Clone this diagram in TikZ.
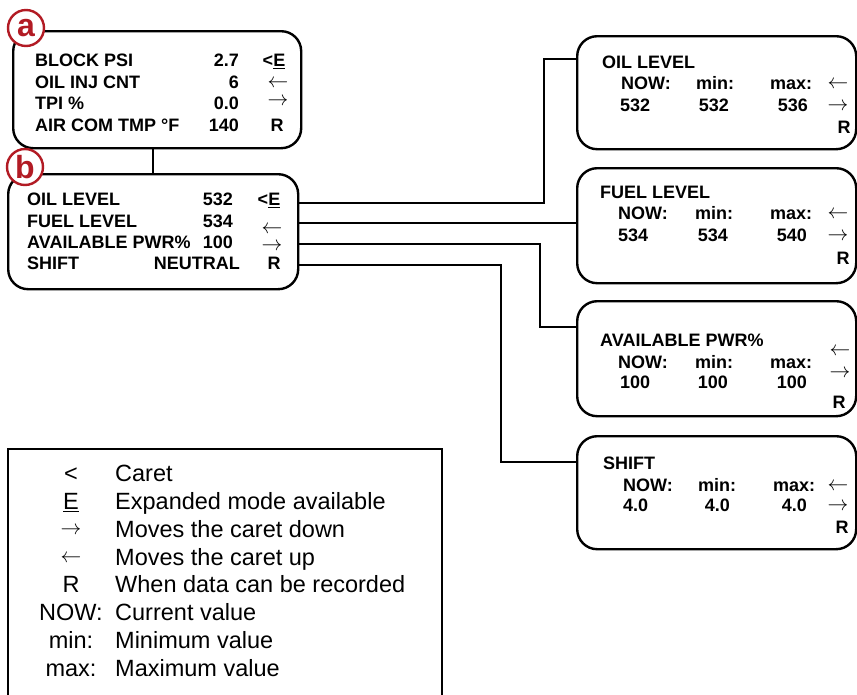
\documentclass[tikz,border=0pt]{standalone}
\usepackage{fontspec}
\setmainfont{Liberation Sans}
\definecolor{badge}{RGB}{178,27,36}
\begin{document}
\begin{tikzpicture}[x=1pt,y=-1pt,
  panel/.style={draw, line width=2.4pt, rounded corners=20pt, inner sep=0, anchor=north west, fill=white},
  conn/.style={line width=2pt},
  lbl/.style={font=\bfseries\fontsize{18}{18}\selectfont, inner sep=0, anchor=base west},
  lblr/.style={lbl, anchor=base east},
  lblc/.style={lbl, anchor=base},
  arr/.style={font=\fontsize{21}{21}\selectfont, inner sep=0, anchor=base},
  leg/.style={font=\fontsize{23.5}{23.5}\selectfont, inner sep=0, anchor=base west},
  legc/.style={leg, anchor=base},
  badgestyle/.style={circle, draw=badge, fill=white, line width=2.4pt, minimum size=36pt, inner sep=0, text=badge, font=\bfseries\fontsize{32}{32}\selectfont}
]
\clip (0,0) rectangle (857,694);

% ---------- panels ----------
\node[panel, minimum width=288pt, minimum height=117pt] (pa) at (12,30) {};
\node[panel, minimum width=290pt, minimum height=115pt] (pb) at (7,173) {};
\node[panel, minimum width=279pt, minimum height=113pt] (oil) at (576,35) {};
\node[panel, minimum width=279pt, minimum height=115pt] (fuel) at (576,167) {};
\node[panel, minimum width=279pt, minimum height=115pt] (avail) at (576,300) {};
\node[panel, minimum width=279pt, minimum height=113pt] (shift) at (576,435) {};

% ---------- connectors ----------
\coordinate (abx) at (153,0);
\draw[conn] (pa.south -| abx) -- (pb.north -| abx);
\draw[conn] (pb.east |- 0,203) -| (544,59) -- (oil.west |- 0,59);
\draw[conn] (pb.east |- 0,223) -- (fuel.west |- 0,223);
\draw[conn] (pb.east |- 0,244) -| (540,327) -- (avail.west |- 0,327);
\draw[conn] (pb.east |- 0,265) -| (501,462) -- (shift.west |- 0,462);

% ---------- badges ----------
\node[badgestyle] (ba) at (26,28) {a};
\node[badgestyle] (bb) at (25,167) {b};

% ---------- panel a text ----------
\node[lbl] (a1) at (35,66.5) {BLOCK PSI};
\node[lbl] (a2) at (35,88.5) {OIL INJ CNT};
\node[lbl] (a3) at (35,109.5) {TPI \%};
\node[lbl] (a4) at (35,131.5) {AIR COM TMP °F};
\node[lblr] (av1) at (239,66.5) {2.7};
\node[lblr] (av2) at (239,88.5) {6};
\node[lblr] (av3) at (239,109.5) {0.0};
\node[lblr] (av4) at (239,131.5) {140};
\node[lblc] (as1) at (274,66.5) {<\underline{E}};
\node[arr] (as2) at (278,87.3) {$\leftarrow$};
\node[arr] (as3) at (278,105.3) {$\rightarrow$};
\node[lblc] (as4) at (277,131.5) {R};

% ---------- panel b text ----------
\node[lbl] (b1) at (27,205.5) {OIL LEVEL};
\node[lbl] (b2) at (27,227.5) {FUEL LEVEL};
\node[lbl] (b3) at (27,248.5) {AVAILABLE PWR\%};
\node[lbl] (b4) at (27,269.5) {SHIFT};
\node[lblr] (bv1) at (233,205.5) {532};
\node[lblr] (bv2) at (233,227.5) {534};
\node[lblr] (bv3) at (233,248.5) {100};
\node[lblr] (bv4) at (240,269.5) {NEUTRAL};
\node[lblc] (bs1) at (269,205.5) {<\underline{E}};
\node[arr] (bs2) at (272,233.3) {$\leftarrow$};
\node[arr] (bs3) at (272,250.3) {$\rightarrow$};
\node[lblc] (bs4) at (274,269.5) {R};

% ---------- oil level ----------
\node[lbl] (o0) at (602,68.5) {OIL LEVEL};
\node[lbl] (o1) at (621,89.5) {NOW:};
\node[lbl] (o2) at (696,89.5) {min:};
\node[lbl] (o3) at (770,89.5) {max:};
\node[arr] (o4) at (838,88.3) {$\leftarrow$};
\node[lbl] (o5) at (620,111.5) {532};
\node[lblr] (o6) at (729,111.5) {532};
\node[lblr] (o7) at (808,111.5) {536};
\node[arr] (o8) at (838,110.3) {$\rightarrow$};
\node[lblc] (o9) at (844,133.5) {R};

% ---------- fuel level ----------
\node[lbl] (f0) at (600,198.5) {FUEL LEVEL};
\node[lbl] (f1) at (618,219.5) {NOW:};
\node[lbl] (f2) at (695,219.5) {min:};
\node[lbl] (f3) at (770,219.5) {max:};
\node[arr] (f4) at (838,218.3) {$\leftarrow$};
\node[lbl] (f5) at (618,241.5) {534};
\node[lblr] (f6) at (728,241.5) {534};
\node[lblr] (f7) at (807,241.5) {540};
\node[arr] (f8) at (838,240.3) {$\rightarrow$};
\node[lblc] (f9) at (843,264.5) {R};

% ---------- available pwr ----------
\node[lbl] (p0) at (600,346.5) {AVAILABLE PWR\%};
\node[lbl] (p1) at (618,368.5) {NOW:};
\node[lbl] (p2) at (695,368.5) {min:};
\node[lbl] (p3) at (770,368.5) {max:};
\node[arr] (p4) at (840,355.3) {$\leftarrow$};
\node[lbl] (p5) at (620,388.5) {100};
\node[lblr] (p6) at (728,388.5) {100};
\node[lblr] (p7) at (807,388.5) {100};
\node[arr] (p8) at (840,377.3) {$\rightarrow$};
\node[lblc] (p9) at (839,408.5) {R};

% ---------- shift ----------
\node[lbl] (s0) at (603,469.5) {SHIFT};
\node[lbl] (s1) at (623,491.5) {NOW:};
\node[lbl] (s2) at (698,491.5) {min:};
\node[lbl] (s3) at (773,491.5) {max:};
\node[arr] (s4) at (838,490.3) {$\leftarrow$};
\node[lbl] (s5) at (623,511.5) {4.0};
\node[lblr] (s6) at (730,511.5) {4.0};
\node[lblr] (s7) at (807,511.5) {4.0};
\node[arr] (s8) at (838,510.3) {$\rightarrow$};
\node[lblc] (s9) at (842,533.5) {R};

% ---------- legend ----------
\draw[line width=2pt] (8,449) rectangle (442,720);
\node[legc] (l1s) at (71,481.4) {<};
\node[leg]  (l1t) at (115,481.4) {Caret};
\node[legc] (l2s) at (71,509.3) {\underline{E}};
\node[leg]  (l2t) at (115,509.3) {Expanded mode available};
\node[arr,font=\fontsize{22}{22}\selectfont] (l3s) at (71,534.6) {$\rightarrow$};
\node[leg]  (l3t) at (115,537.1) {Moves the caret down};
\node[arr,font=\fontsize{22}{22}\selectfont] (l4s) at (71,562.5) {$\leftarrow$};
\node[leg]  (l4t) at (115,565.0) {Moves the caret up};
\node[legc] (l5s) at (71,592.8) {R};
\node[leg]  (l5t) at (115,592.8) {When data can be recorded};
\node[legc] (l6s) at (71,620.7) {NOW:};
\node[leg]  (l6t) at (115,620.7) {Current value};
\node[legc] (l7s) at (71,648.6) {min:};
\node[leg]  (l7t) at (115,648.6) {Minimum value};
\node[legc] (l8s) at (71,676.4) {max:};
\node[leg]  (l8t) at (115,676.4) {Maximum value};
\end{tikzpicture}
\end{document}
